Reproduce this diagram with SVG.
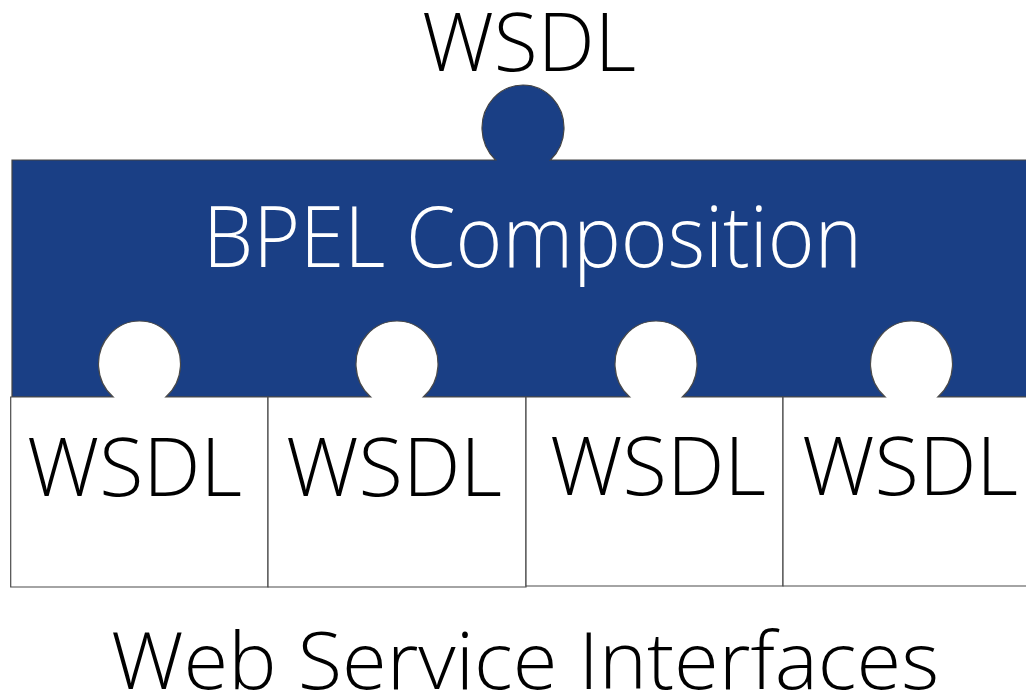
<svg xmlns="http://www.w3.org/2000/svg" width="1026" height="696" viewBox="0 0 1026 696">
  <style>
    .lbl { font-family: "Open Sans", "Noto Sans", "DejaVu Sans", sans-serif; font-weight: 300; fill: #000; text-anchor: middle; }
    .wsdl { font-size: 81px; }
    .box { fill: #ffffff; stroke: #4a4a4a; stroke-width: 1.2; }
    .bar { fill: #1a3f85; stroke: #444444; stroke-width: 1.2; }
  </style>
  <rect width="1026" height="696" fill="#ffffff"/>
  <g id="top-label">
    <text class="lbl wsdl" x="529" y="71" textLength="214" lengthAdjust="spacingAndGlyphs">WSDL</text>
  </g>
  <g id="bpel">
    <path class="bar" d="M12,160 H495.6 A41,43 0 1 1 550.4,160 H1030 V397 H12 Z"/>
    <text class="lbl" x="532.5" y="267" font-size="84" style="fill:#ffffff" textLength="659" lengthAdjust="spacingAndGlyphs">BPEL Composition</text>
  </g>
  <g id="wsdl-1">
    <path class="box" d="M10.7,397 H113.2 A41,43 0 1 1 165.8,397 H268 V587 H10.7 Z"/>
    <text class="lbl wsdl" x="134.5" y="496" textLength="215" lengthAdjust="spacingAndGlyphs">WSDL</text>
  </g>
  <g id="wsdl-2">
    <path class="box" d="M268,397 H370.7 A41,43 0 1 1 423.3,397 H526 V587 H268 Z"/>
    <text class="lbl wsdl" x="394" y="496" textLength="216" lengthAdjust="spacingAndGlyphs">WSDL</text>
  </g>
  <g id="wsdl-3">
    <path class="box" d="M526,397 H629.7 A41,43 0 1 1 682.3,397 H783 V586 H526 Z"/>
    <text class="lbl wsdl" x="658" y="495" textLength="216" lengthAdjust="spacingAndGlyphs">WSDL</text>
  </g>
  <g id="wsdl-4">
    <path class="box" d="M783,397 H885.2 A41,43 0 1 1 937.8,397 H1030 V586 H783 Z"/>
    <text class="lbl wsdl" x="910" y="495" textLength="216" lengthAdjust="spacingAndGlyphs">WSDL</text>
  </g>
  <g id="caption">
    <text class="lbl" x="525" y="689" font-size="80" textLength="828" lengthAdjust="spacingAndGlyphs">Web Service Interfaces</text>
  </g>
  <g id="connectors"/>
</svg>
